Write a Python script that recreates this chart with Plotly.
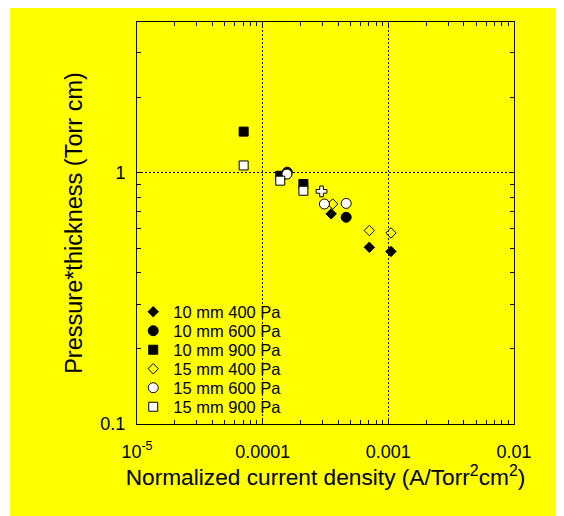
import plotly.graph_objects as go

# Data
x_10_400 = [3.51e-4, 7.06e-4, 1.05e-3]
y_10_400 = [0.686, 0.505, 0.486]
x_10_600 = [1.57e-4, 4.62e-4]
y_10_600 = [1.005, 0.665]
x_10_900 = [7.06e-5, 1.38e-4, 2.11e-4]
y_10_900 = [1.458, 0.973, 0.902]
x_15_400 = [3.61e-4, 7.06e-4, 1.05e-3]
y_15_400 = [0.751, 0.589, 0.576]
x_15_600 = [1.56e-4, 3.10e-4, 4.62e-4]
y_15_600 = [0.988, 0.751, 0.755]
x_15_900 = [7.06e-5, 1.38e-4, 2.11e-4, 2.94e-4]
y_15_900 = [1.069, 0.930, 0.848, 0.843]
sym_15_900 = ["square", "square", "square", "cross"]

x_major = [1e-5, 1e-4, 1e-3, 1e-2]
x_major_text = ["10<sup>-5</sup>", "0.0001", "0.001", "0.01"]
x_minor = [m * d for d in [1e-5, 1e-4, 1e-3] for m in range(2, 10)]
y_major = [0.1, 1]
y_major_text = ["0.1", "1"]
y_minor = [m * 0.1 for m in range(2, 10)] + [2, 3, 4]

FONT = "Liberation Sans, Arial, sans-serif"
YELLOW = "#ffff00"

# figure geometry (page has an 8px body margin)
W, H = 556, 508
L, R, T, B = 129, 50, 14, 92
pw, ph = W - L - R, H - T - B

fig = go.Figure()

legend_centers_px = [304, 323, 342, 361, 380, 399]

def add(idx, name, xs, ys, symbol, fill, size):
    lname = "legend" if idx == 0 else f"legend{idx + 1}"
    fig.add_trace(go.Scatter(
        x=xs, y=ys, mode="markers", name=name, legend=lname,
        marker=dict(symbol=symbol, color=fill, size=size,
                    line=dict(color="black", width=1)),
    ))
    yc = (H - B - legend_centers_px[idx]) / ph
    fig.update_layout({lname: dict(
        x=-0.01, y=yc, xanchor="left", yanchor="middle",
        bgcolor="rgba(0,0,0,0)", borderwidth=0,
        font=dict(family=FONT, size=16.5, color="black"),
        itemsizing="trace",
    )})

add(0, "10 mm 400 Pa", x_10_400, y_10_400, "diamond", "black", 8)
add(1, "10 mm 600 Pa", x_10_600, y_10_600, "circle", "black", 10)
add(2, "10 mm 900 Pa", x_10_900, y_10_900, "square", "black", 9)
add(3, "15 mm 400 Pa", x_15_400, y_15_400, "diamond-open", "black", 8)
add(4, "15 mm 600 Pa", x_15_600, y_15_600, "circle", "white", 10)
add(5, "15 mm 900 Pa", x_15_900, y_15_900, sym_15_900, "white", 9)

fig.add_shape(type="rect", xref="paper", yref="paper", layer="below",
              x0=(2 - L) / pw, x1=(W - L) / pw,
              y0=(H - B - H) / ph, y1=(H - B) / ph,
              fillcolor=YELLOW, line=dict(width=0))

axis_common = dict(
    type="log", showline=True, linecolor="black", linewidth=1,
    mirror="ticks", ticks="inside", ticklen=4, tickcolor="black",
    showgrid=True, gridcolor="black", griddash="2px,2px", gridwidth=1,
    zeroline=False, tickfont=dict(family=FONT, size=18, color="black"),
)

fig.update_xaxes(
    **axis_common, range=[-5, -2],
    tickmode="array", tickvals=x_major, ticktext=x_major_text,
    minor=dict(tickmode="array", tickvals=x_minor, ticks="inside", ticklen=4,
               tickcolor="black", showgrid=False),
    title_text="Normalized current density (A/Torr<sup>2</sup>cm<sup>2</sup>)",
    title_font=dict(family=FONT, size=22.7, color="black"),
    title_standoff=8, ticklabelstandoff=11,
)
fig.update_yaxes(
    **axis_common, range=[-1, 0.6],
    tickmode="array", tickvals=y_major, ticktext=y_major_text,
    minor=dict(tickmode="array", tickvals=y_minor, ticks="inside", ticklen=4,
               tickcolor="black", showgrid=False),
    title_text="Pressure*thickness (Torr cm)",
    title_font=dict(family=FONT, size=23.5, color="black"),
    title_standoff=11, ticklabelstandoff=7,
)

fig.update_layout(
    width=W, height=H, autosize=False,
    margin=dict(l=L, r=R, t=T, b=B, autoexpand=False),
    paper_bgcolor="white", plot_bgcolor=YELLOW,
    font=dict(family=FONT, color="black"),
    showlegend=True,
)

fig.write_html("out.html")
